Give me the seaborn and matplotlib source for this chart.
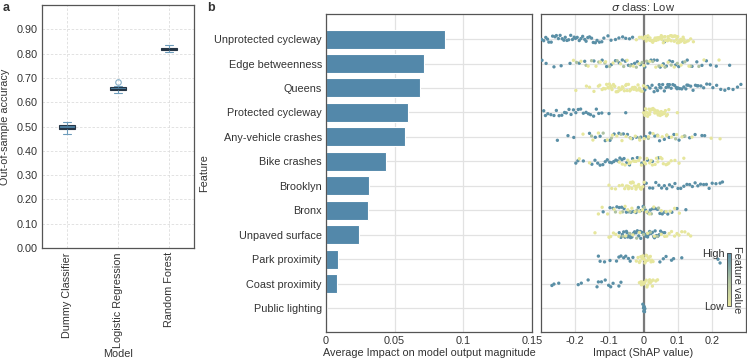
import numpy as np
import pandas as pd
import matplotlib
matplotlib.use("Agg")
import matplotlib.pyplot as plt
import seaborn as sns
from matplotlib.colors import LinearSegmentedColormap, Normalize
from matplotlib.cm import ScalarMappable

# ---------------- data ----------------
models = ["Dummy Classifier", "Logistic Regression", "Random Forest"]
acc_dummy = [0.470, 0.485, 0.487, 0.492, 0.495, 0.497, 0.503, 0.508, 0.510, 0.518]
acc_logreg = [0.636, 0.645, 0.649, 0.652, 0.654, 0.656, 0.659, 0.662, 0.668, 0.685]
acc_rf = [0.808, 0.813, 0.816, 0.818, 0.820, 0.821, 0.823, 0.826, 0.830, 0.836]

features = ["Unprotected cycleway", "Edge betweenness", "Queens", "Protected cycleway",
            "Any-vehicle crashes", "Bike crashes", "Brooklyn", "Bronx", "Unpaved surface",
            "Park proximity", "Coast proximity", "Public lighting"]
mean_abs_shap = [0.0864, 0.0711, 0.0687, 0.0595, 0.0578, 0.0437, 0.0313, 0.0303,
                 0.0243, 0.0090, 0.0083, 0.0010]

# SHAP values per feature, split by feature value (high / mid / low)
shap_hi = {
    "Unprotected cycleway": [-0.298, -0.292, -0.286, -0.281, -0.277, -0.270, -0.266, -0.259, -0.255, -0.249,
                             -0.244, -0.238, -0.233, -0.229, -0.224, -0.219, -0.213, -0.208, -0.203, -0.199,
                             -0.194, -0.188, -0.183, -0.178, -0.172, -0.168, -0.163, -0.158, -0.152, -0.147,
                             -0.141, -0.136, -0.129, -0.122, -0.116, -0.104, -0.095, -0.082, -0.072, -0.061,
                             -0.052, -0.041, -0.032, 0.012, 0.035, 0.061],
    "Edge betweenness": [-0.297, -0.285, -0.262, -0.241, -0.215, -0.188, -0.172, -0.145, -0.121, -0.108,
                         -0.094, -0.082, -0.071, -0.062, -0.053, -0.044, -0.035, -0.026, -0.018, -0.009,
                         0.004, 0.013, 0.022, 0.031, 0.040, 0.049, 0.058, 0.067, 0.076, 0.085, 0.094,
                         0.103, 0.115, 0.128, 0.142, 0.156, 0.171, 0.184, 0.196, 0.213, 0.252],
    "Queens": [0.004, 0.012, 0.019, 0.025, 0.031, 0.036, 0.041, 0.046, 0.051, 0.056, 0.061, 0.066,
               0.071, 0.076, 0.081, 0.086, 0.091, 0.096, 0.101, 0.106, 0.112, 0.118, 0.124, 0.131,
               0.138, 0.145, 0.152, 0.160, 0.168, 0.176, 0.185, 0.194, 0.203, 0.214, 0.226, 0.238,
               0.249, 0.262, 0.275, 0.285, 0.048, 0.073, 0.098, 0.127, 0.157],
    "Protected cycleway": [-0.292, -0.287, -0.280, -0.271, -0.262, -0.255, -0.247, -0.239, -0.231, -0.226,
                           -0.218, -0.212, -0.205, -0.198, -0.191, -0.184, -0.176, -0.168, -0.161, -0.155,
                           -0.146, -0.138, -0.131, -0.122, -0.101, -0.052],
    "Any-vehicle crashes": [-0.252, -0.221, -0.204, -0.158, -0.141, -0.127, -0.112, -0.098, -0.086, -0.072,
                            -0.059, -0.047, -0.033, -0.021, -0.008, 0.006, 0.019, 0.033, 0.047, 0.061,
                            0.075, 0.089, 0.104, 0.119, 0.135, 0.151, 0.171, 0.179],
    "Bike crashes": [-0.198, -0.192, -0.176, -0.151, -0.142, -0.134, -0.127, -0.119, -0.112, -0.106,
                     -0.099, -0.093, -0.087, -0.081, -0.075, -0.069, -0.063, -0.057, -0.049, -0.041,
                     -0.032, -0.018, -0.005, 0.012, 0.026, 0.044],
    "Brooklyn": [0.008, 0.018, 0.027, 0.036, 0.045, 0.053, 0.061, 0.068, 0.076, 0.084, 0.092, 0.101,
                 0.109, 0.118, 0.127, 0.135, 0.143, 0.151, 0.159, 0.167, 0.176, 0.184, 0.192, 0.201,
                 0.212, 0.224, 0.231],
    "Bronx": [-0.118, -0.098, -0.089, -0.078, -0.071, -0.064, -0.057, -0.050, -0.043, -0.036, -0.029,
              -0.022, -0.015, -0.008, -0.001, 0.006, 0.013, 0.020, 0.027, 0.034, 0.041, 0.048, 0.055,
              0.062, 0.071, 0.083, 0.098, 0.124],
    "Unpaved surface": [-0.071, -0.066, -0.062, -0.058, -0.054, -0.050, -0.046, -0.042, -0.038, -0.034,
                        -0.030, -0.026, -0.022, -0.018, -0.014, -0.010, -0.006, -0.002, 0.002, 0.006,
                        0.010, 0.014, 0.018, 0.022, 0.026, 0.030, 0.034, 0.038, 0.042, 0.046, 0.050,
                        0.056, 0.062, -0.048, -0.028, -0.008, 0.012, 0.032],
    "Park proximity": [-0.132, -0.127, -0.114, -0.098, -0.079, -0.072, -0.066, -0.058, -0.052, -0.044,
                       -0.039, -0.031, 0.048, 0.058, 0.066, 0.082, 0.088, 0.112, 0.218, 0.224],
    "Coast proximity": [-0.268, -0.262, -0.248, -0.191, -0.182, -0.162, -0.136, -0.132, -0.123, -0.112,
                        -0.102, -0.096, -0.089, -0.072, -0.066],
    "Public lighting": [-0.002, 0.000, 0.001, 0.002, 0.003, 0.004, 0.001, 0.002],
}
shap_mid = {
    "Edge betweenness": [-0.196, -0.168, -0.152, -0.131, -0.113, -0.099, -0.077, -0.058, -0.039, -0.021,
                         -0.004, 0.009, 0.027, 0.045, 0.063, 0.081, 0.099, 0.121, 0.138, 0.162],
    "Any-vehicle crashes": [-0.152, -0.118, -0.094, -0.066, -0.039, -0.012, 0.014, 0.041, 0.068, 0.094, 0.121],
    "Bronx": [-0.082, -0.061, -0.040, -0.019, 0.002, 0.023, 0.044],
    "Unpaved surface": [-0.060, -0.040, -0.020, 0.000, 0.020, 0.040],
}
shap_lo = {
    "Unprotected cycleway": [-0.021, -0.012, -0.006, 0.000, 0.004, 0.007, 0.010, 0.013, 0.016, 0.019, 0.022,
                             0.025, 0.028, 0.031, 0.034, 0.037, 0.040, 0.043, 0.046, 0.049, 0.052, 0.055,
                             0.058, 0.061, 0.064, 0.067, 0.070, 0.073, 0.076, 0.079, 0.082, 0.085, 0.088,
                             0.091, 0.094, 0.097, 0.100, 0.103, 0.106, 0.109, 0.112, 0.116, 0.120, 0.125,
                             0.131, 0.138, 0.146, 0.008, 0.018, 0.027, 0.036, 0.045, 0.054, 0.063, 0.072,
                             0.081, 0.090, 0.099, 0.108, 0.118],
    "Edge betweenness": [-0.205, -0.183, -0.162, -0.139, -0.126, -0.111, -0.089, -0.067, -0.048, -0.030,
                         -0.013, 0.001, 0.018, 0.036, 0.054, 0.072, 0.090, 0.110, 0.133, 0.177, 0.221],
    "Queens": [-0.198, -0.167, -0.158, -0.145, -0.132, -0.128, -0.121, -0.117, -0.112, -0.108, -0.104,
               -0.100, -0.096, -0.092, -0.088, -0.084, -0.080, -0.076, -0.072, -0.068, -0.064, -0.060,
               -0.056, -0.052, -0.048, -0.044, -0.040, -0.036, -0.032, -0.028, -0.024, -0.020, -0.016,
               -0.012, -0.008, -0.004, 0.000, -0.086, -0.074, -0.062, -0.050, -0.038, -0.026, -0.014,
               -0.094, -0.102, 0.008],
    "Protected cycleway": [0.000, 0.004, 0.007, 0.010, 0.013, 0.016, 0.019, 0.022, 0.025, 0.028, 0.031,
                           0.034, 0.037, 0.040, 0.043, 0.046, 0.049, 0.052, 0.055, 0.058, 0.061, 0.064,
                           0.067, 0.070, 0.074, 0.099, 0.012, 0.027, 0.041, 0.053, 0.006, 0.018, 0.033,
                           0.047, 0.060],
    "Any-vehicle crashes": [-0.177, -0.148, -0.132, -0.106, -0.091, -0.078, -0.063, -0.051, -0.037, -0.024,
                            -0.011, 0.002, 0.015, 0.028, 0.042, 0.055, 0.068, 0.082, 0.097, 0.113, 0.142,
                            0.198, 0.224],
    "Bike crashes": [-0.188, -0.158, -0.071, -0.062, -0.054, -0.046, -0.038, -0.030, -0.022, -0.014, -0.006,
                     0.002, 0.010, 0.018, 0.026, 0.034, 0.042, 0.050, 0.058, 0.066, 0.074, 0.081, 0.092,
                     0.104, 0.118, -0.042, -0.026, -0.010, 0.006, 0.022, 0.038, 0.054, 0.070],
    "Brooklyn": [-0.101, -0.093, -0.082, -0.071, -0.062, -0.055, -0.050, -0.046, -0.042, -0.038, -0.034,
                 -0.030, -0.026, -0.022, -0.018, -0.014, -0.010, -0.006, -0.002, 0.002, -0.044, -0.032,
                 -0.020, -0.008, -0.036, -0.016],
    "Bronx": [-0.132, -0.121, -0.105, -0.086, -0.068, -0.054, -0.046, -0.034, -0.025, -0.012, -0.003,
              0.009, 0.017, 0.030, 0.052, 0.066, 0.078, 0.091, 0.105],
    "Unpaved surface": [-0.142, -0.101, -0.096, -0.088, -0.081, -0.072, -0.052, -0.031, -0.012, 0.012,
                        0.032, 0.052, 0.062, 0.068, 0.075, 0.082, 0.091, 0.098, 0.104, 0.112, 0.121,
                        0.131, 0.138],
    "Park proximity": [-0.021, -0.016, -0.012, -0.008, -0.004, 0.000, 0.004, 0.008, 0.012, 0.016, 0.020,
                       0.024, 0.028, -0.010, -0.002, 0.006, 0.014, 0.022, 0.002, 0.010],
    "Coast proximity": [-0.012, -0.008, -0.004, 0.000, 0.004, 0.008, 0.012, 0.016, 0.020, 0.024, 0.028,
                        -0.006, 0.002, 0.010, 0.018, 0.026, 0.041, 0.036],
}

# ---------------- style ----------------
sns.set_theme(style="whitegrid")
plt.rcParams["font.family"] = ["Liberation Sans", "DejaVu Sans"]
plt.rcParams["font.size"] = 7.8
plt.rcParams["axes.labelsize"] = 7.8
plt.rcParams["xtick.labelsize"] = 7.8
plt.rcParams["ytick.labelsize"] = 7.8
plt.rcParams["text.color"] = "#333333"
plt.rcParams["axes.labelcolor"] = "#333333"
plt.rcParams["xtick.color"] = "#333333"
plt.rcParams["ytick.color"] = "#333333"

BAR = "#5388aa"
cmap = LinearSegmentedColormap.from_list("fv", ["#e6e69c", "#adc2a2", "#5a8fa6"])

fig = plt.figure(figsize=(7.47, 3.6), dpi=100)
ax_a = fig.add_axes([0.0562, 0.311, 0.2035, 0.675])
ax_b = fig.add_axes([0.4364, 0.0778, 0.2758, 0.883])
ax_c = fig.add_axes([0.7242, 0.0778, 0.2745, 0.883])

for ax in (ax_a, ax_b, ax_c):
    for s in ax.spines.values():
        s.set_color("#555555")
        s.set_linewidth(0.9)
    ax.tick_params(length=0, pad=3)

# ---------------- panel a ----------------
df_acc = pd.DataFrame({
    "Model": [models[0]] * len(acc_dummy) + [models[1]] * len(acc_logreg) + [models[2]] * len(acc_rf),
    "acc": acc_dummy + acc_logreg + acc_rf,
})
sns.boxplot(data=df_acc, x="Model", y="acc", order=models, width=0.32, ax=ax_a,
            boxprops=dict(facecolor="#4f82a3", edgecolor="#263646", linewidth=0.8),
            whiskerprops=dict(color="#6d9cbb", linewidth=0.8),
            capprops=dict(color="#6d9cbb", linewidth=0.8),
            medianprops=dict(color="#263646", linewidth=0.8),
            flierprops=dict(marker="o", markerfacecolor="none", markeredgecolor="#86afc8",
                            markersize=4, markeredgewidth=0.8))
ax_a.set_ylim(0, 1.0)
ax_a.set_yticks(np.arange(0, 0.91, 0.1))
ax_a.set_yticklabels([f"{v:.2f}" for v in np.arange(0, 0.91, 0.1)])
ax_a.set_ylabel("Out-of-sample accuracy", labelpad=5)
ax_a.set_xlabel("Model", labelpad=1)
ax_a.tick_params(axis="x", rotation=90)
ax_a.grid(True, linestyle=(0, (3, 2)), color="#dddddd", linewidth=0.6)

# ---------------- panel b ----------------
df_imp = pd.DataFrame({"Feature": features, "imp": mean_abs_shap})
sns.barplot(data=df_imp, x="imp", y="Feature", order=features, color=BAR, saturation=1,
            width=0.78, edgecolor="white", linewidth=0.8, ax=ax_b)
ax_b.set_xlim(0, 0.15)
ax_b.set_xticks([0, 0.05, 0.1, 0.15])
ax_b.set_xticklabels(["0", "0.05", "0.1", "0.15"])
ax_b.set_ylim(11.98, -1.02)
ax_b.set_xlabel("Average Impact on model output magnitude", labelpad=1)
ax_b.set_ylabel("Feature", labelpad=4)
ax_b.grid(True, color="#e2e2e2", linewidth=0.9)
ax_b.set_axisbelow(True)

# ---------------- panel c ----------------
rows = []
for f in features:
    for v in shap_hi.get(f, []):
        rows.append((f, v, 1.0))
    for v in shap_mid.get(f, []):
        rows.append((f, v, 0.5))
    for v in shap_lo.get(f, []):
        rows.append((f, v, 0.0))
df_shap = pd.DataFrame(rows, columns=["Feature", "shap", "fv"])

np.random.seed(3)
ax_c.axvline(0, color="#7a7a7a", linewidth=1.6, zorder=1)
sns.stripplot(data=df_shap, x="shap", y="Feature", order=features, hue="fv",
              palette=cmap, hue_norm=(0, 1), jitter=0.16, size=2.4, linewidth=0,
              legend=False, ax=ax_c, zorder=3)
ax_c.set_xlim(-0.3, 0.3)
ax_c.set_xticks([-0.2, -0.1, 0, 0.1, 0.2])
ax_c.set_xticklabels(["-0.2", "-0.1", "0", "0.1", "0.2"])
ax_c.set_ylim(11.98, -1.02)
ax_c.set_yticklabels([])
ax_c.set_ylabel("")
ax_c.set_xlabel("Impact (ShAP value)", labelpad=1)
ax_c.set_title(r"$\sigma$ class: Low", fontsize=8, pad=2)
ax_c.grid(True, color="#e2e2e2", linewidth=0.9)
ax_c.set_axisbelow(True)

cax = fig.add_axes([726.5 / 747, (360 - 306) / 360, 4 / 747, 53 / 360])
sm = ScalarMappable(norm=Normalize(0, 1), cmap=cmap)
cb = fig.colorbar(sm, cax=cax)
cb.outline.set_linewidth(0.6)
cb.outline.set_edgecolor("#444444")
cb.set_ticks([0, 1])
cb.set_ticklabels(["Low", "High"])
cax.yaxis.set_ticks_position("left")
cax.tick_params(length=0, pad=1.5, labelsize=7.8)
cax.yaxis.set_label_position("right")
cb.set_label("Feature value", rotation=270, labelpad=8, fontsize=7.8)

fig.text(0.003, 0.995, "a", fontsize=9, fontweight="bold", va="top", ha="left")
fig.text(0.277, 0.995, "b", fontsize=9, fontweight="bold", va="top", ha="left")

fig.savefig("out.png", dpi=100)
